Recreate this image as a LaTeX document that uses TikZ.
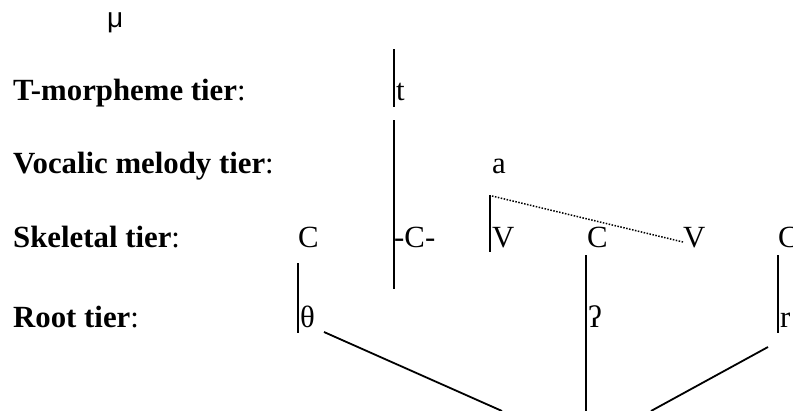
\documentclass[tikz,border=0pt]{standalone}
\usepackage{fontspec}
\setmainfont{Liberation Serif}
\newfontfamily\musans{Liberation Sans}
\begin{document}
\begin{tikzpicture}[x=1pt,y=-1pt,
  lab/.style={anchor=base west,inner sep=0pt,font=\fontsize{30.8}{36}\selectfont},
  seg/.style={lab},
  bar/.style={line width=1.8pt},
  dotline/.style={line width=1.5pt,dash pattern=on 1.5pt off 1.5pt}]
\useasboundingbox (0,0) rectangle (793,410);
\clip (0,0) rectangle (793,410);
% tier labels
\node[lab] (mu) at (107,27) {\musans\fontsize{28}{32}\selectfont μ};
\node[lab] (tm) at (13,100) {\textbf{T-morpheme tier}:};
\node[lab] (vm) at (13,173) {\textbf{Vocalic melody tier}:};
\node[lab] (sk) at (13,247) {\textbf{Skeletal tier}:};
\node[lab] (rt) at (13,327) {\textbf{Root tier}:};
% segments
\node[seg] (t) at (396,100) {t};
\node[seg] (a) at (492,173) {a};
\node[seg] (c1) at (298,247) {C};
\node[seg] (cm) at (394,247) {-C-};
\node[seg] (v1) at (492,247) {V};
\node[seg] (c2) at (587,247) {C};
\node[seg] (v2) at (683,247) {V};
\node[seg] (c3) at (778,247) {C};
\node[seg] (th) at (300,327) {θ};
\node[seg] (gs) at (588,327) {ʔ};
\node[seg] (r) at (780,327) {r};
% line end points
\coordinate (tbA) at (394,49);   \coordinate (tbB) at (394,107);
\coordinate (lbA) at (394,120);  \coordinate (lbB) at (394,289);
\coordinate (vbA) at (490,195);  \coordinate (vbB) at (490,252);
\coordinate (dA) at (492,196);   \coordinate (dB) at (683,242);
\coordinate (thA) at (298,263);  \coordinate (thB) at (298,333);
\coordinate (gsA) at (586,255);  \coordinate (gsB) at (586,412);
\coordinate (rA) at (778,255);   \coordinate (rB) at (778,333);
\coordinate (dlA) at (324,332);  \coordinate (dlB) at (502,411);
\coordinate (drA) at (768,347);  \coordinate (drB) at (651,411);
% connectors
\draw[bar] (tbA) -- (tbB);
\draw[bar] (lbA) -- (lbB);
\draw[bar] (vbA) -- (vbB);
\draw[dotline] (dA) -- (dB);
\draw[bar] (thA) -- (thB);
\draw[bar] (gsA) -- (gsB);
\draw[bar] (rA) -- (rB);
\draw[bar] (dlA) -- (dlB);
\draw[bar] (drA) -- (drB);
\end{tikzpicture}
\end{document}
